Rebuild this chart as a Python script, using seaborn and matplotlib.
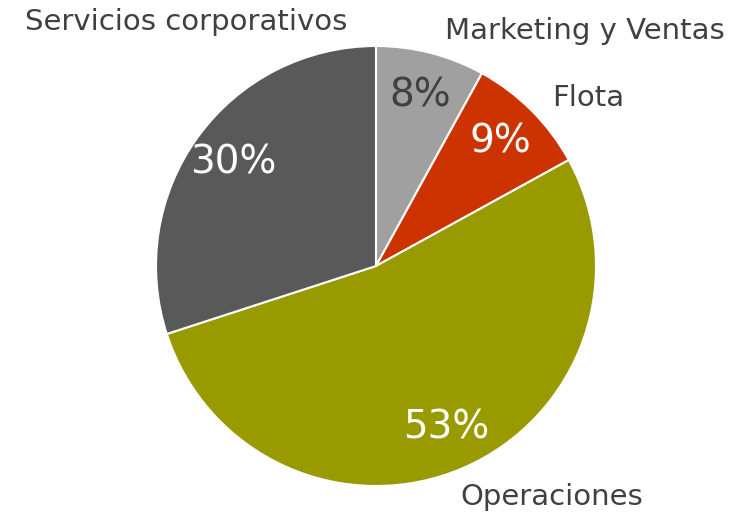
import matplotlib
matplotlib.use("Agg")
import matplotlib.pyplot as plt
import seaborn as sns

sns.set_theme(style="white")
plt.rcParams["font.family"] = ["DejaVu Sans"]

# Cost distribution by area (share of total, %)
categories = ["Marketing y Ventas", "Flota", "Operaciones", "Servicios corporativos"]
shares = [8, 9, 53, 30]
colors = ["#a0a0a0", "#cc3300", "#999900", "#595959"]
pct_colors = ["#404040", "white", "white", "white"]

# Hand-placed category label positions (in pie-radius units)
label_pos = [(0.95, 1.07), (0.965, 0.764), (0.80, -1.05), (-0.864, 1.109)]

W, H = 745, 517
fig = plt.figure(figsize=(W / 100, H / 100), dpi=100)
ax = fig.add_axes([156 / W, (H - 486) / H, 440 / W, 440 / H])

wedges, texts, autotexts = ax.pie(
    shares,
    labels=categories,
    colors=colors,
    startangle=90,
    counterclock=False,
    autopct=lambda p: f"{round(p)}%",
    pctdistance=0.8,
    radius=1.0,
    wedgeprops=dict(edgecolor="white", linewidth=1.5),
    textprops=dict(fontsize=28),
)

for t, (x, y) in zip(texts, label_pos):
    t.set_position((x, y))
    t.set_ha("center")
    t.set_va("center")
    t.set_fontsize(21)
    t.set_color("#404040")

for t, c in zip(autotexts, pct_colors):
    t.set_color(c)
    t.set_fontsize(28)

ax.set_xlim(-1, 1)
ax.set_ylim(-1, 1)
ax.set_aspect("equal")
ax.axis("off")

fig.savefig("out.png", dpi=100)
